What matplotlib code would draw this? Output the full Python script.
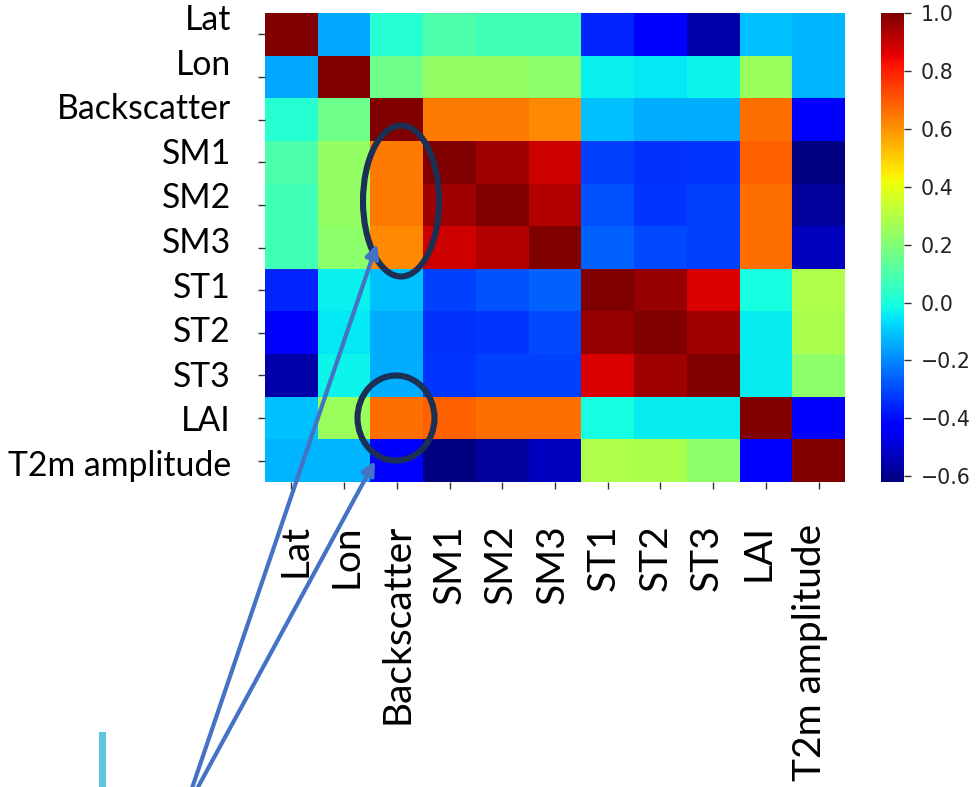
import numpy as np
import matplotlib
matplotlib.use("Agg")
import matplotlib.pyplot as plt
from matplotlib.patches import Ellipse, Rectangle, FancyArrowPatch

# Variables of the correlation matrix
variables = ["Lat", "Lon", "Backscatter", "SM1", "SM2", "SM3",
             "ST1", "ST2", "ST3", "LAI", "T2m amplitude"]

# Pearson correlation coefficients (row by row)
corr_lat = [1.00, -0.15, 0.02, 0.10, 0.07, 0.07, -0.36, -0.43, -0.56, -0.11, -0.13]
corr_lon = [-0.15, 1.00, 0.16, 0.24, 0.235, 0.225, -0.035, -0.045, -0.03, 0.25, -0.13]
corr_backscatter = [0.02, 0.16, 1.00, 0.64, 0.645, 0.62, -0.11, -0.14, -0.14, 0.66, -0.44]
corr_sm1 = [0.10, 0.24, 0.64, 1.00, 0.95, 0.89, -0.315, -0.34, -0.33, 0.685, -0.62]
corr_sm2 = [0.07, 0.235, 0.645, 0.95, 1.00, 0.93, -0.29, -0.33, -0.315, 0.66, -0.58]
corr_sm3 = [0.07, 0.225, 0.62, 0.89, 0.93, 1.00, -0.26, -0.30, -0.315, 0.66, -0.53]
corr_st1 = [-0.36, -0.035, -0.11, -0.315, -0.29, -0.26, 1.00, 0.965, 0.87, -0.01, 0.285]
corr_st2 = [-0.43, -0.045, -0.14, -0.34, -0.33, -0.30, 0.965, 1.00, 0.95, -0.04, 0.28]
corr_st3 = [-0.56, -0.03, -0.14, -0.33, -0.315, -0.315, 0.87, 0.95, 1.00, -0.04, 0.225]
corr_lai = [-0.11, 0.25, 0.66, 0.685, 0.66, 0.66, -0.01, -0.04, -0.04, 1.00, -0.43]
corr_t2m = [-0.13, -0.13, -0.44, -0.62, -0.58, -0.53, 0.285, 0.28, 0.225, -0.43, 1.00]

colorbar_ticks = [-0.6, -0.4, -0.2, 0.0, 0.2, 0.4, 0.6, 0.8, 1.0]

corr = np.array([corr_lat, corr_lon, corr_backscatter, corr_sm1, corr_sm2,
                 corr_sm3, corr_st1, corr_st2, corr_st3, corr_lai, corr_t2m])
n = len(variables)

W, H = 976, 787
fig = plt.figure(figsize=(W / 100, H / 100), dpi=100)


def fx(px):
    return px / W


def fy(py):
    return 1 - py / H


# Heatmap
ax = fig.add_axes([fx(265), fy(482), fx(845) - fx(265), fy(13) - fy(482)])
mesh = ax.pcolormesh(np.arange(n + 1), np.arange(n + 1), corr, cmap="jet",
                     vmin=corr.min(), vmax=1.0)
ax.set_xlim(0, n)
ax.set_ylim(n, 0)
for s in ax.spines.values():
    s.set_visible(False)
ax.set_xticks(np.arange(n) + 0.5)
ax.set_yticks(np.arange(n) + 0.5)
ax.set_xticklabels([])
ax.set_yticklabels([])
ax.tick_params(length=5, width=1.0, color="#333333")

# Colorbar
cax = fig.add_axes([fx(881), fy(482), fx(904) - fx(881), fy(13) - fy(482)])
cb = fig.colorbar(mesh, cax=cax, ticks=colorbar_ticks)
cb.outline.set_visible(False)
cax.tick_params(length=5, width=1.0, pad=7, labelsize=14.8, color="#333333",
                labelcolor="#222222")

# Variable names
font_family = ["Lato", "DejaVu Sans"]
for i, name in enumerate(variables):
    fig.text(fx(231), fy(20 + 44.6 * i), name, ha="right", va="center",
             family=font_family, size=24.3, color="black")
    fig.text(fx(295 + 51.5 * i), fy(524), name, ha="center", va="top",
             rotation=90, family=font_family, size=28, color="black")

# Highlight ellipses
ring = "#1c2f54"
fig.add_artist(Ellipse((fx(401), fy(201)), fx(76), 151 / H, fill=False,
                       edgecolor=ring, linewidth=4.4, transform=fig.transFigure))
fig.add_artist(Ellipse((fx(396), fy(418)), fx(77), 85 / H, fill=False,
                       edgecolor=ring, linewidth=4.4, transform=fig.transFigure))

# Pointer arrows
arrow_color = "#4472c4"
for start, end in [((188, 800), (377, 244)), ((191, 800), (375, 461))]:
    fig.add_artist(FancyArrowPatch((fx(start[0]), fy(start[1])),
                                   (fx(end[0]), fy(end[1])),
                                   transform=fig.transFigure,
                                   arrowstyle="-|>", mutation_scale=20,
                                   linewidth=3.0, color=arrow_color,
                                   shrinkA=0, shrinkB=0))

# Small accent bar
fig.add_artist(Rectangle((fx(99), fy(787)), fx(7), 55 / H, color="#5ec5df",
                         transform=fig.transFigure, linewidth=0))

fig.savefig("out.png", dpi=100)
